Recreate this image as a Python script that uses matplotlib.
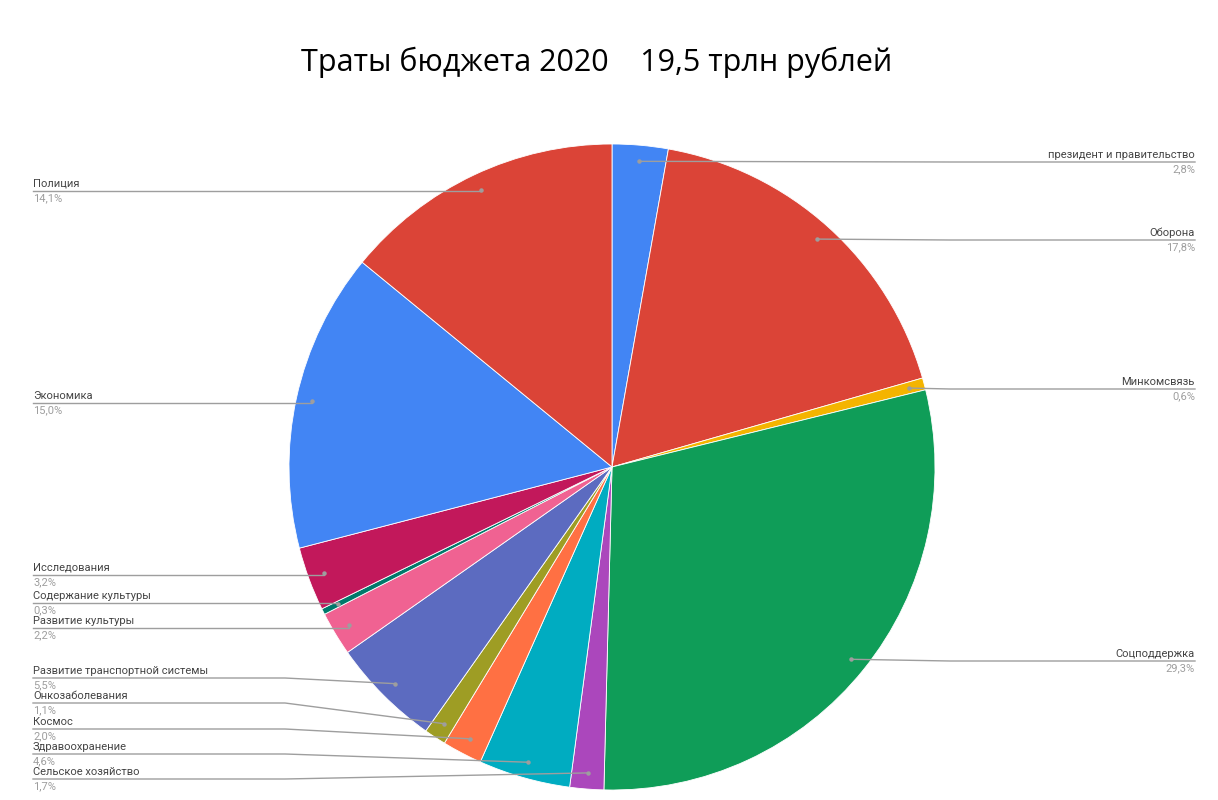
import numpy as np
import matplotlib
matplotlib.use("Agg")
import matplotlib.pyplot as plt

title = "Траты бюджета 2020    19,5 трлн рублей"
categories = ["президент и правительство", "Оборона", "Минкомсвязь", "Соцподдержка",
              "Сельское хозяйство", "Здравоохранение", "Космос", "Онкозаболевания",
              "Развитие транспортной системы", "Развитие культуры", "Содержание культуры",
              "Исследования", "Экономика", "Полиция"]
values = [2.8, 17.8, 0.6, 29.3, 1.7, 4.6, 2.0, 1.1, 5.5, 2.2, 0.3, 3.2, 15.0, 14.1]
pct_labels = ["2,8%", "17,8%", "0,6%", "29,3%", "1,7%", "4,6%", "2,0%", "1,1%",
              "5,5%", "2,2%", "0,3%", "3,2%", "15,0%", "14,1%"]
colors = ["#4285F4", "#DB4437", "#F4B400", "#0F9D58", "#AB47BC", "#00ACC1", "#FF7043",
          "#9E9D24", "#5C6BC0", "#F06292", "#00796B", "#C2185B", "#4285F4", "#DB4437"]

# layout: label line y (pixels from top) and side
label_y = [162, 240, 389, 661, 779, 754, 729, 703, 678, 628, 603, 575, 403, 191]
label_side = ["R", "R", "R", "R", "L", "L", "L", "L", "L", "L", "L", "L", "L", "L"]

W, H = 1218, 800
fig = plt.figure(figsize=(W / 100, H / 100), dpi=100)
ax = fig.add_axes([0, 0, 1, 1])
cx, cy, R = 612, 800 - 467, 323
wedges, _ = ax.pie(values, colors=colors, startangle=90, counterclock=False,
                   center=(cx, cy), radius=R,
                   wedgeprops=dict(linewidth=0.6, edgecolor="white"))
ax.set_xlim(0, W)
ax.set_ylim(0, H)
ax.set_aspect("equal")
ax.axis("off")

line_col = "#9e9e9e"
for w, name, pct, ly, side in zip(wedges, categories, pct_labels, label_y, label_side):
    mid = np.deg2rad((w.theta1 + w.theta2) / 2)
    px = cx + 0.95 * R * np.cos(mid)
    py = cy + 0.95 * R * np.sin(mid)
    yl = H - ly
    ax.plot([px], [py], marker="o", ms=2.2, color=line_col, zorder=5)
    if side == "R":
        xs = [px, max(px + 30, 950), 1195]
        ax.plot(xs, [py, yl, yl], color=line_col, lw=1, zorder=4)
        ax.text(1195, yl + 2, name, ha="right", va="bottom", fontsize=8,
                family="Roboto", color="#444444")
        ax.text(1195, yl - 2, pct, ha="right", va="top", fontsize=8,
                family="Roboto", color="#9e9e9e")
    else:
        elbow = min(px - 30, 285) if abs(py - yl) > 3 else px
        ax.plot([33, elbow, px], [yl, yl, py], color=line_col, lw=1, zorder=4)
        ax.text(33, yl + 2, name, ha="left", va="bottom", fontsize=8,
                family="Roboto", color="#444444")
        ax.text(33, yl - 2, pct, ha="left", va="top", fontsize=8,
                family="Roboto", color="#9e9e9e")

fig.text(597 / W, 1 - 62 / H, title, ha="center", va="center", fontsize=22,
         family="Open Sans", color="black")

fig.savefig("out.png", dpi=100, facecolor="white")
